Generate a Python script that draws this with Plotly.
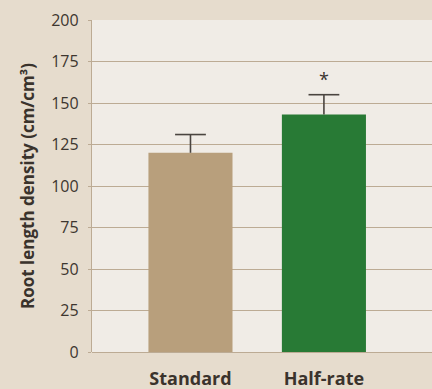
import plotly.graph_objects as go

categories = ["Standard", "Half-rate"]
root_density = [120, 143]
std_error = [11, 12]
significance = ["", "*"]
bar_colors = ["#b89f7c", "#287a35"]
y_ticks = [0, 25, 50, 75, 100, 125, 150, 175, 200]

grid = "#bcab94"
whisker = "#4a4540"
font = "Open Sans"

fig = go.Figure()
fig.add_trace(go.Bar(
    x=categories,
    y=root_density,
    width=0.63,
    marker=dict(color=bar_colors, line=dict(width=0)),
    showlegend=False,
    hoverinfo="x+y",
))

# upper whiskers only: stem from bar top to mean + SE, with a cap
for cat, val, err in zip(categories, root_density, std_error):
    fig.add_trace(go.Scatter(
        x=[cat, cat], y=[val, val + err], mode="lines",
        line=dict(color=whisker, width=1.6),
        showlegend=False, hoverinfo="skip",
    ))
    fig.add_trace(go.Scatter(
        x=[cat], y=[val + err], mode="markers",
        marker=dict(symbol="line-ew", size=22,
                    line=dict(color=whisker, width=1.6)),
        showlegend=False, hoverinfo="skip",
    ))

for cat, val, err, mark in zip(categories, root_density, std_error, significance):
    if mark:
        fig.add_annotation(x=cat, y=val + err, text=mark, showarrow=False,
                           yanchor="bottom", yshift=2,
                           font=dict(family=font, size=18, color="#3a3530"))

fig.update_layout(
    width=432, height=389,
    margin=dict(l=92, r=0, t=20, b=37),
    paper_bgcolor="#e6dccd",
    plot_bgcolor="#f0ece6",
)
fig.update_xaxes(
    range=[-0.738, 1.81],
    showgrid=False,
    showline=False,
    ticks="",
    ticklabelstandoff=14,
    tickfont=dict(family=font, size=18, color="#3a332c", weight="bold"),
)
fig.update_yaxes(
    range=[0, 200],
    tickvals=y_ticks,
    showgrid=True, gridcolor=grid, gridwidth=1.3,
    zeroline=True, zerolinecolor=grid, zerolinewidth=1.3,
    showline=True, linecolor=grid, linewidth=1.3,
    ticks="outside", ticklen=3, tickcolor=grid,
    ticklabelstandoff=6,
    tickfont=dict(family=font, size=16, color="#3d362f"),
    title=dict(text="Root length density (cm/cm³)", standoff=12,
               font=dict(family=font, size=17, color="#3a332c", weight="bold")),
)

fig.write_html("out.html")
